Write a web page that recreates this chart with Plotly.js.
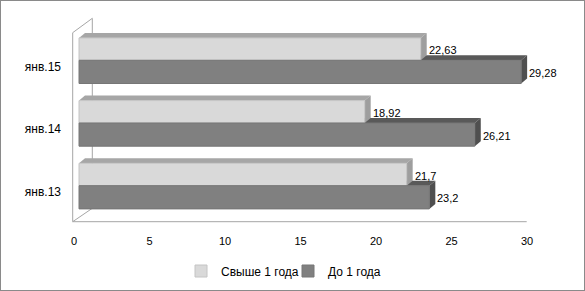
<!DOCTYPE html>
<html><head><meta charset="utf-8">
<script src="https://cdn.plot.ly/plotly-3.0.1.min.js"></script>
<style>
html,body{margin:0;padding:0;background:#fff}
#chart{width:585px;height:291px}
#frame{position:absolute;left:0;top:0;width:585px;height:291px;box-sizing:border-box;border:1px solid #8a8a8a;pointer-events:none}
</style>
</head><body><div id="chart"></div><div id="frame"></div>
<script>
// ---- data ----
const categories = ['янв.13', 'янв.14', 'янв.15'];
const seriesNames = ['Свыше 1 года', 'До 1 года'];
const over1Year = [21.7, 18.92, 22.63];
const upTo1Year = [23.2, 26.21, 29.28];
const xTickVals = [0, 5, 10, 15, 20, 25, 30];

// ---- geometry (pixels) ----
const W = 585, H = 291;
const M = {l: 64, r: 25, t: 15, b: 66, autoexpand: false};
const plotW = W - M.l - M.r, plotH = H - M.t - M.b;
const X0PX = 79, XUNIT = 15.1;        // px of value 0, px per unit
const Y0PX = 185.7, YUNIT = 62.7;     // px of category 0 boundary, px per category
const DXPX = 6, DYPX = 5;             // 3D depth offset
const DX = DXPX / XUNIT, DY = DYPX / YUNIT;
const xRange = [(M.l - X0PX) / XUNIT, (W - M.r - X0PX) / XUNIT];
const yRange = [(Y0PX - (H - M.b)) / YUNIT, (Y0PX - M.t) / YUNIT];
const px = x => (x - M.l) / plotW;
const py = y => 1 - (y - M.t) / plotH;

const pos = categories.map((c, i) => i);
const light = {off: 0, w: 0.357, front: '#d9d9d9', edge: '#c4c4c4', top: '#a6a6a6', side: '#9e9e9e'};
const dark = {off: -0.37, w: 0.37, front: '#808080', edge: '#767676', top: '#595959', side: '#4f4f4f'};
const fmt = v => String(v).replace('.', ',');

const traces = [
  {type: 'bar', orientation: 'h', name: seriesNames[0], y: pos, x: over1Year,
   offset: light.off, width: light.w, legend: 'legend',
   marker: {color: light.front, line: {color: light.edge, width: 1}}, hoverinfo: 'x+name'},
  {type: 'bar', orientation: 'h', name: seriesNames[1], y: pos, x: upTo1Year,
   offset: dark.off, width: dark.w, legend: 'legend2',
   marker: {color: dark.front, line: {color: dark.edge, width: 1}}, hoverinfo: 'x+name'}
];

const frameColor = '#a6a6a6';
const fx0 = 72.7, fx1 = 92.3, fyTopF = 32.7, fyTopB = 18.3, fyBotF = 221.7, fyBotB = 208.3, fxEnd = 526.7;
const line = (x0, y0, x1, y1) => ({type: 'line', xref: 'paper', yref: 'paper', layer: 'below',
  x0: px(x0), y0: py(y0), x1: px(x1), y1: py(y1), line: {color: frameColor, width: 1}});
const shapes = [
  line(fx1, fyTopB, fx1, fyBotB),
  line(fx0, fyTopF, fx0, fyBotF),
  line(fx0, fyTopF, fx1, fyTopB),
  line(fx0, fyBotF, fx1, fyBotB),
  line(fx0, fyBotF, fxEnd, fyBotF)
];
function faces(vals, s) {
  vals.forEach((v, i) => {
    const b = pos[i] + s.off, t = b + s.w;
    shapes.push({type: 'path', xref: 'x', yref: 'y', layer: 'below', line: {width: 0}, fillcolor: s.top,
      path: `M0,${t} L${v},${t} L${v + DX},${t + DY} L${DX},${t + DY} Z`});
    shapes.push({type: 'path', xref: 'x', yref: 'y', layer: 'below', line: {width: 0}, fillcolor: s.side,
      path: `M${v},${b} L${v + DX},${b + DY} L${v + DX},${t + DY} L${v},${t} Z`});
  });
}
faces(upTo1Year, dark);
faces(over1Year, light);

const annotations = [];
[[over1Year, light], [upTo1Year, dark]].forEach(([vals, s]) => {
  vals.forEach((v, i) => annotations.push({
    x: v, y: pos[i] + s.off + s.w / 2, xref: 'x', yref: 'y', text: fmt(v),
    showarrow: false, xanchor: 'left', yanchor: 'middle', xshift: DXPX, yshift: -1,
    font: {family: 'Liberation Sans, Arial, sans-serif', size: 11, color: '#000'}
  }));
});

const legendBase = {orientation: 'h', yanchor: 'middle', xanchor: 'left', y: py(271),
  bgcolor: 'rgba(0,0,0,0)', font: {family: 'Liberation Sans, Arial, sans-serif', size: 12, color: '#000'}};

const layout = {
  width: W, height: H, margin: M,
  paper_bgcolor: '#fff', plot_bgcolor: 'rgba(0,0,0,0)',
  separators: ', ', barmode: 'overlay', showlegend: true,
  font: {family: 'Liberation Sans, Arial, sans-serif', size: 12, color: '#000'},
  xaxis: {range: xRange, tickvals: xTickVals, showgrid: false, zeroline: false, showline: false,
    ticks: '', ticklabelshift: -5, ticklabelstandoff: 8, tickfont: {size: 11}, fixedrange: true},
  yaxis: {range: yRange, tickvals: pos, ticktext: categories, showgrid: false, zeroline: false,
    showline: false, ticks: '', ticklabelshift: 6, ticklabelstandoff: 2, tickfont: {size: 12}, fixedrange: true},
  legend: Object.assign({}, legendBase, {x: px(181)}),
  legend2: Object.assign({}, legendBase, {x: px(288)}),
  shapes: shapes,
  annotations: annotations
};

Plotly.newPlot('chart', traces, layout, {displayModeBar: false, staticPlot: true});
</script>
</body></html>
